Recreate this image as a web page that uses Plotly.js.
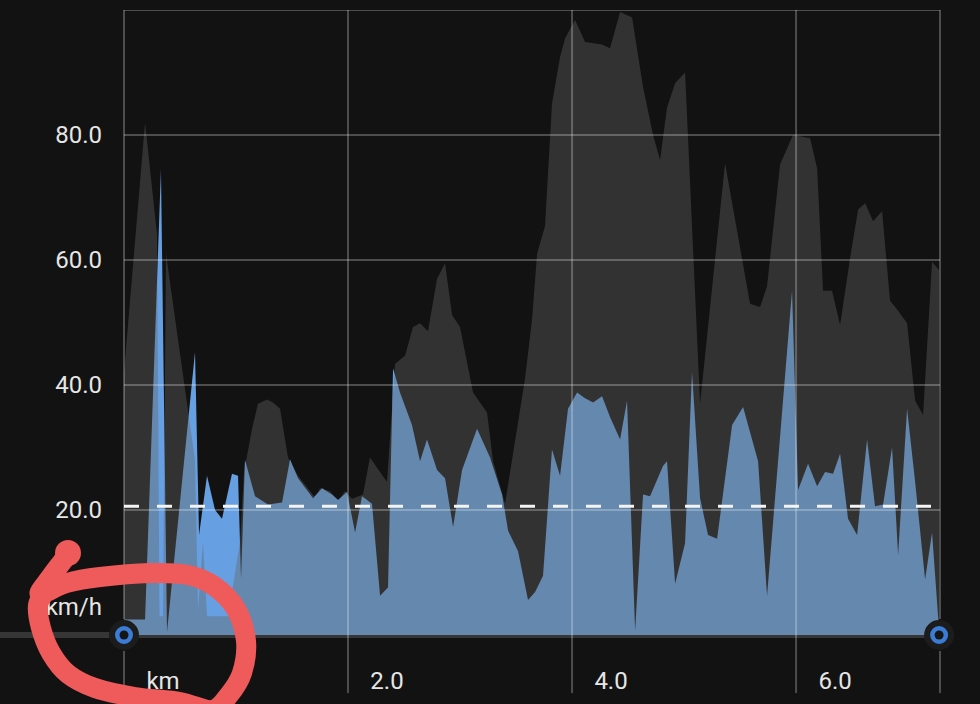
<!DOCTYPE html>
<html>
<head>
<meta charset="utf-8">
<script src="https://cdn.plot.ly/plotly-3.0.1.min.js"></script>
<style>
  html, body { margin: 0; padding: 0; background: #121212; }
  #chart { width: 980px; height: 704px; }
</style>
</head>
<body>
<div id="chart"></div>
<script>
// Speed along the route (km, km/h)
const speedKm = [0, 0.188, 0.330, 0.384, 0.634, 0.670, 0.741, 0.813, 0.875, 0.964,
  1.018, 1.045, 1.080, 1.170, 1.286, 1.411, 1.482, 1.554, 1.688, 1.768,
  1.857, 1.911, 1.991, 2.063, 2.125, 2.214, 2.286, 2.357, 2.402, 2.464,
  2.571, 2.643, 2.705, 2.795, 2.866, 2.938, 3.018, 3.152, 3.268, 3.375,
  3.429, 3.518, 3.607, 3.670, 3.741, 3.821, 3.893, 3.964, 4.045, 4.116,
  4.188, 4.268, 4.339, 4.429, 4.491, 4.563, 4.634, 4.696, 4.813, 4.848,
  4.920, 5.009, 5.071, 5.143, 5.214, 5.295, 5.429, 5.527, 5.661, 5.741,
  5.964, 6.018, 6.107, 6.188, 6.259, 6.330, 6.393, 6.464, 6.545, 6.634,
  6.705, 6.777, 6.857, 6.911, 6.991, 7.063, 7.152, 7.214, 7.277];
const speedKmh = [2.5, 2.5, 74.5, 0.5, 45.3, 16, 25.5, 20, 18.6, 25.8,
  25.5, 9, 28, 22.2, 20.9, 21.2, 28.1, 25.1, 21.9, 23.5,
  22.5, 21.6, 22.9, 16.4, 22.2, 21, 6.3, 7.6, 42.7, 38.8,
  33.6, 27.8, 31.3, 26.4, 25.1, 17.3, 26.4, 33, 28.4, 22.5,
  16.7, 13.4, 5.6, 6.9, 9.5, 29.7, 25.5, 36.2, 38.8, 37.9,
  37.2, 38.2, 34.9, 31.3, 37.5, 0.7, 22.5, 22.2, 27.1, 27.8,
  8.2, 14.7, 42.1, 21.9, 16, 15.4, 33.6, 36.5, 27.8, 6.3,
  55.1, 23.2, 27.4, 23.8, 26.1, 25.8, 29, 18.6, 16, 31.3,
  20.6, 20.9, 30, 12.8, 36.2, 24.5, 8.9, 16.4, 0.7];

// Background profile drawn over the speed (grey band)
const elevKm = [0, 0.188, 0.295, 0.317, 0.348, 0.375, 0.5, 0.634, 0.661, 0.705,
  0.741, 0.929, 1.036, 1.071, 1.143, 1.196, 1.277, 1.330, 1.393, 1.464,
  1.554, 1.705, 1.750, 1.839, 1.911, 1.973, 2.036, 2.134, 2.196, 2.286,
  2.348, 2.420, 2.509, 2.580, 2.643, 2.714, 2.795, 2.866, 2.929, 3.000,
  3.116, 3.241, 3.295, 3.402, 3.491, 3.580, 3.643, 3.688, 3.759, 3.821,
  3.893, 3.938, 4.027, 4.116, 4.268, 4.339, 4.429, 4.536, 4.634, 4.723,
  4.786, 4.848, 4.920, 5.009, 5.143, 5.366, 5.589, 5.679, 5.741, 5.857,
  5.973, 6.125, 6.188, 6.241, 6.321, 6.393, 6.482, 6.554, 6.616, 6.688,
  6.768, 6.839, 6.911, 6.991, 7.063, 7.134, 7.214, 7.277];
const elevation = [42, 82, 64, 3, 3, 61, 45, 28, 4, 15,
  3, 3, 15, 26, 33, 37, 37.7, 37.2, 36.2, 28.4,
  25.5, 22, 23.5, 23, 21.5, 23, 21.8, 22.5, 28.4, 26,
  24.5, 43.4, 44.7, 49.3, 49.9, 48.6, 57, 59.5, 51.2, 49.3,
  38.8, 35.6, 27.8, 21, 31, 41, 50.5, 61, 65.5, 85,
  92.5, 95.5, 98.4, 94.9, 94.5, 93.9, 99.7, 98.8, 87.7, 80,
  76, 84.4, 88.3, 90, 37, 75.5, 53, 52.5, 55.8, 75.3,
  80, 79.5, 74.7, 55.1, 55.1, 49.6, 60.3, 68.1, 69.1, 66.2,
  67.8, 53.5, 51.9, 49.9, 37.5, 35.2, 59.7, 58.4];

const avgSpeed = 20.6;

// Axis ticks
const xTickVals = [0, 2, 4, 6];
const xTickText = ['km', '2.0', '4.0', '6.0'];
const yGridVals = [20, 40, 60, 80, 100];
const yTickVals = [20, 40, 60, 80];
const yTickText = ['20.0', '40.0', '60.0', '80.0'];
const yUnit = 'km/h';

// ---- layout geometry ----
const W = 980, H = 704;
const M = { l: 124, r: 40, t: 10, b: 69 };
const plotW = W - M.l - M.r, plotH = H - M.t - M.b;
const xRange = [0, 7.285];
const yRange = [0, 100];
const unitLabelAt = 4.5;          // the unit sits just above the baseline
const tickExt = 58;               // vertical grid lines run below the plot

const gridColor = 'rgba(255,255,255,0.25)';
const labelFont = { family: 'Roboto, "Noto Sans", sans-serif', size: 24, color: '#e6e6e6' };

const xToPaper = v => (v - xRange[0]) / (xRange[1] - xRange[0]);
const pxX = px => (px - M.l) / plotW;
const pxY = py => (H - M.b - py) / plotH;

const traces = [
  { // speed area
    x: speedKm, y: speedKmh, type: 'scatter', mode: 'lines',
    fill: 'tozeroy', fillcolor: '#67a0e2', line: { width: 0 }, hoverinfo: 'skip'
  },
  { // grey profile laid over the speed
    x: elevKm, y: elevation, type: 'scatter', mode: 'lines',
    fill: 'tozeroy', fillcolor: 'rgba(100,100,100,0.4)', line: { width: 0 }, hoverinfo: 'skip'
  },
  { // average speed
    x: [speedKm[0], speedKm[speedKm.length - 1]], y: [avgSpeed, avgSpeed],
    type: 'scatter', mode: 'lines',
    line: { color: '#f4f4f4', width: 3, dash: '15px,18px' }, hoverinfo: 'skip'
  },
  { // start / end handles
    x: [speedKm[0], speedKm[speedKm.length - 1]], y: [0, 0],
    type: 'scatter', mode: 'markers', cliponaxis: false,
    marker: { symbol: 'circle', size: 24, color: '#3b7dd6', line: { color: '#1c1c1c', width: 6 } },
    hoverinfo: 'skip'
  },
  {
    x: [speedKm[0], speedKm[speedKm.length - 1]], y: [0, 0],
    type: 'scatter', mode: 'markers', cliponaxis: false,
    marker: { symbol: 'circle', size: 9, color: '#161616', line: { width: 0 } },
    hoverinfo: 'skip'
  }
];

const shapes = [];
// baseline across the whole width
shapes.push({
  type: 'line', xref: 'paper', yref: 'paper', x0: pxX(0), x1: 1, y0: 0, y1: 0,
  line: { color: '#363636', width: 6 }, layer: 'below'
});
// horizontal grid
yGridVals.forEach(v => shapes.push({
  type: 'line', xref: 'paper', yref: 'y', x0: 0, x1: 1, y0: v, y1: v,
  line: { color: gridColor, width: 2 }, layer: 'above'
}));
// vertical grid, extended below the plot; gaps around the handles
const vLines = xTickVals.concat([xRange[1]]);
const handleGap = 16;
vLines.forEach((v, i) => {
  const gap = (i === 0 || i === vLines.length - 1) ? handleGap : 0;
  const xp = xToPaper(v);
  shapes.push({
    type: 'line', xref: 'paper', yref: 'paper', ysizemode: 'pixel', yanchor: 0,
    x0: xp, x1: xp, y0: gap, y1: plotH,
    line: { color: gridColor, width: 2 }, layer: 'above'
  });
  shapes.push({
    type: 'line', xref: 'paper', yref: 'paper', ysizemode: 'pixel', yanchor: 0,
    x0: xp, x1: xp, y0: -gap, y1: -tickExt,
    line: { color: gridColor, width: 2 }, layer: 'above'
  });
});

// hand-drawn highlight loop around the axis units
const loopPx = [[72, 549], [62, 562], [50, 578], [40, 594], [67, 583], [100, 577], [150, 573],
  [188, 575], [214, 586], [236, 609], [246, 641], [242, 673], [229, 695], [212, 710],
  [180, 702], [135, 697], [95, 688], [68, 674], [51, 653], [41, 628], [38, 605], [46, 591]];
function smoothPath(pts) {
  const p = pts.map(([a, b]) => [pxX(a), pxY(b)]);
  let d = `M${p[0][0]},${p[0][1]}`;
  for (let i = 0; i < p.length - 1; i++) {
    const p0 = p[i - 1] || p[i], p1 = p[i], p2 = p[i + 1], p3 = p[i + 2] || p2;
    const c1 = [p1[0] + (p2[0] - p0[0]) / 6, p1[1] + (p2[1] - p0[1]) / 6];
    const c2 = [p2[0] - (p3[0] - p1[0]) / 6, p2[1] - (p3[1] - p1[1]) / 6];
    d += ` C${c1[0]},${c1[1]} ${c2[0]},${c2[1]} ${p2[0]},${p2[1]}`;
  }
  return d;
}
shapes.push({
  type: 'path', xref: 'paper', yref: 'paper', path: smoothPath(loopPx),
  line: { color: '#ef5a5a', width: 20 }, layer: 'above'
});
shapes.push({
  type: 'circle', xref: 'paper', yref: 'paper', xsizemode: 'pixel', ysizemode: 'pixel',
  xanchor: pxX(68), yanchor: pxY(553), x0: -13, x1: 13, y0: -13, y1: 13,
  fillcolor: '#ef5a5a', line: { width: 0 }, layer: 'above'
});

const layout = {
  width: W, height: H,
  margin: M,
  paper_bgcolor: '#121212', plot_bgcolor: '#121212',
  showlegend: false,
  xaxis: {
    range: xRange, showgrid: false, zeroline: false, showline: false, ticks: '',
    tickmode: 'array', tickvals: xTickVals, ticktext: xTickText,
    ticklabelshift: 39, ticklabelstandoff: 29, tickfont: labelFont, fixedrange: true
  },
  yaxis: {
    range: yRange, showgrid: false, zeroline: false, showline: false, ticks: '',
    tickmode: 'array', tickvals: [unitLabelAt].concat(yTickVals), ticktext: [yUnit].concat(yTickText),
    ticklabelstandoff: 21, tickfont: labelFont, fixedrange: true
  },
  shapes: shapes
};

Plotly.newPlot('chart', traces, layout, { displayModeBar: false, staticPlot: true });
</script>
</body>
</html>
